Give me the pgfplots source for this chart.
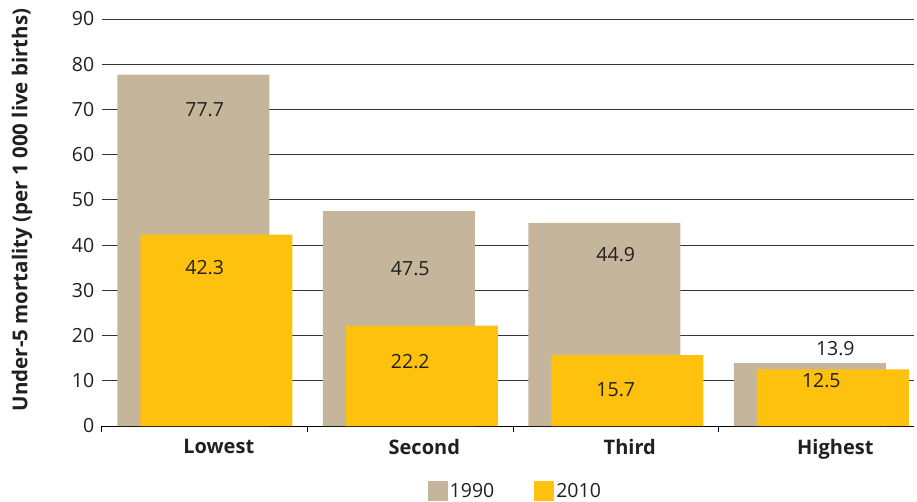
\documentclass[border=0pt]{standalone}
\usepackage{pgfplots}
\pgfplotsset{compat=1.18}
\usepackage{pgfplotstable}
\usepackage{fontspec}
\setmainfont{Open Sans}
\definecolor{tanbar}{RGB}{196,181,155}
\definecolor{goldbar}{RGB}{254,194,14}
\definecolor{txt}{RGB}{35,31,32}

% x: quintile index, dx/dy: label offset in pt from bar top
\pgfplotstableread{
x y dx dy
0 77.7 0 -35
1 47.5 0 -57
2 44.9 0 -32
3 13.9 14 15
}\ninety
\pgfplotstableread{
x y dx dy
0 42.3 0 -33
1 22.2 0 -36
2 15.7 0 -35
3 12.5 0 -11
}\twentyten

\begin{document}
\begin{tikzpicture}
\begin{axis}[
  scale only axis, width=812pt, height=407pt,
  xmin=-0.5, xmax=3.451, ymin=0, ymax=90,
  axis x line*=bottom, axis y line*=left, axis line style={-},
  y axis line style={draw=none},
  x axis line style={black, line width=1pt},
  ytick={0,10,...,90}, ytick style={draw=none},
  ymajorgrids, grid style={black!80, line width=0.9pt},
  xtick={0,1,2,3}, xticklabels={Lowest,Second,Third,Highest},
  major x tick style={draw=none},
  minor xtick={-0.5,0.5,1.5,2.5},
  minor x tick style={black, line width=1pt},
  tick align=outside, minor tick length=6pt,
  /pgf/number format/assume math mode=true,
  yticklabel style={font=\fontsize{19.5}{22}\selectfont, text=txt},
  xticklabel style={font=\fontsize{20}{24}\selectfont\bfseries, text=txt, xshift=14pt, yshift=-5pt},
  ylabel={Under-5 mortality (per 1~000 live births)},
  every axis y label/.style={at={(axis description cs:-0.0985,0.531)}, rotate=90, anchor=center,
    font=\fontsize{20.5}{24}\selectfont\bfseries, text=txt},
  nodes near coords={\pgfmathprintnumber[fixed,precision=1,fixed zerofill,assume math mode=true]{\pgfplotspointmeta}},
  point meta=y,
  visualization depends on={\thisrow{dx} \as \dx},
  visualization depends on={\thisrow{dy} \as \dy},
  every node near coord/.append style={anchor=center, xshift=\dx pt, yshift=\dy pt,
    font=\fontsize{19.5}{22}\selectfont, text=txt},
  legend style={at={(axis description cs:0.509,-0.184)}, anchor=south, draw=none, fill=none,
    legend columns=2, inner sep=0pt, font=\fontsize{19.5}{22}\selectfont, text=txt,
    /tikz/every even column/.append style={column sep=38pt}},
]
\addplot[ybar, bar width=152pt, bar shift=-11.5pt, fill=tanbar, draw=none,
  legend image code/.code={\fill[tanbar] (0pt,-10pt) rectangle (20pt,10pt);}]
  table[x=x, y=y] {\ninety};
\addlegendentry{1990}
\addplot[ybar, bar width=152pt, bar shift=11.5pt, fill=goldbar, draw=none,
  legend image code/.code={\fill[goldbar] (0pt,-10pt) rectangle (20pt,10pt);}]
  table[x=x, y=y] {\twentyten};
\addlegendentry{2010}
\end{axis}
\path[use as bounding box] (-102pt,-75pt) rectangle (815pt,426pt);
\end{tikzpicture}
\end{document}
